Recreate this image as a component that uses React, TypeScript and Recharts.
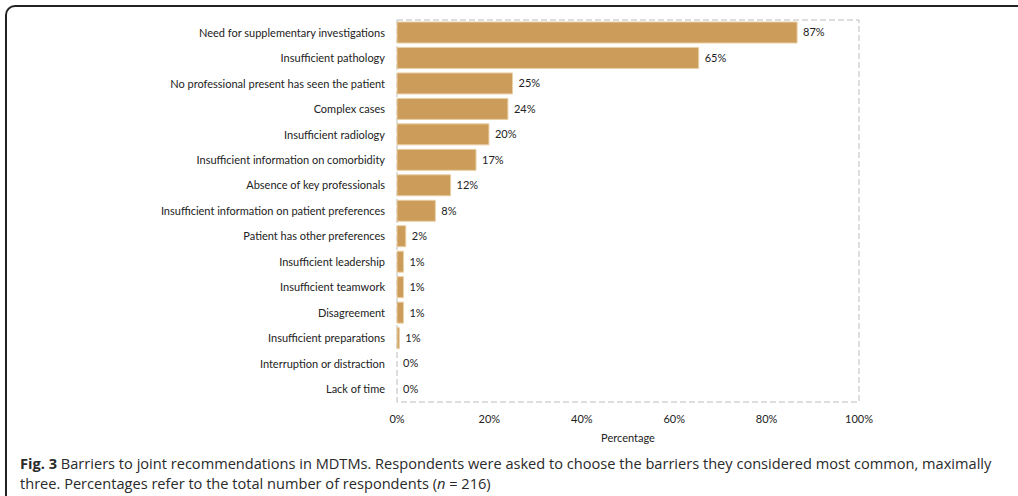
import { BarChart, Bar, XAxis, YAxis, LabelList, ReferenceArea, Cell } from 'recharts'

const categories = [
  'Need for supplementary investigations',
  'Insufficient pathology',
  'No professional present has seen the patient',
  'Complex cases',
  'Insufficient radiology',
  'Insufficient information on comorbidity',
  'Absence of key professionals',
  'Insufficient information on patient preferences',
  'Patient has other preferences',
  'Insufficient leadership',
  'Insufficient teamwork',
  'Disagreement',
  'Insufficient preparations',
  'Interruption or distraction',
  'Lack of time',
]

const percentages = [86.6, 65.3, 25, 24, 19.9, 17.1, 11.6, 8.3, 1.9, 1.4, 1.4, 1.4, 0.5, 0, 0]

const xTicks = [0, 20, 40, 60, 80, 100]

const data = categories.map((name, i) => ({ name, value: percentages[i] }))

const tickStyle = { fontSize: 11, fill: '#222', fontFamily: 'Lato, sans-serif' }

export default function App() {
  return (
    <div
      style={{
        position: 'fixed',
        left: 0,
        top: 0,
        width: 1018,
        height: 496,
        overflow: 'hidden',
        background: '#fff',
      }}
    >
      <div
        style={{
          position: 'absolute',
          left: 5,
          top: 5,
          width: 1030,
          height: 520,
          border: '2px solid #222',
          borderRadius: 10,
          boxSizing: 'border-box',
        }}
      />
      <div style={{ position: 'absolute', left: 0, top: 0 }}>
        <BarChart
          width={1018}
          height={450}
          data={data}
          layout="vertical"
          margin={{ top: 20, right: 159, bottom: 0, left: 0 }}
        >
          <XAxis
            type="number"
            domain={[0, 100]}
            ticks={xTicks}
            tickFormatter={(v) => `${v}%`}
            tick={tickStyle}
            axisLine={false}
            tickLine={false}
            tickSize={0}
            tickMargin={13}
            height={48}
            label={{
              value: 'Percentage',
              position: 'insideBottom',
              offset: 8,
              style: tickStyle,
            }}
          />
          <YAxis
            type="category"
            dataKey="name"
            width={397}
            tick={tickStyle}
            axisLine={false}
            tickLine={false}
            tickSize={0}
            tickMargin={12}
            interval={0}
          />
          <ReferenceArea
            x1={0}
            x2={100}
            fill="none"
            stroke="#bdbdbd"
            strokeDasharray="6 3"
          />
          <Bar
            dataKey="value"
            fill="#cc9d5a"
            strokeWidth={1}
            barSize={21}
            minPointSize={(v: number) => (v === 0 ? 0.01 : 0)}
            isAnimationActive={false}
          >
            {data.map((d) => (
              <Cell key={d.name} stroke={d.value > 0 ? '#e9cfa6' : 'none'} />
            ))}
            <LabelList
              dataKey="value"
              position="right"
              offset={6}
              formatter={(v: number) => `${Math.round(v)}%`}
              style={tickStyle}
            />
          </Bar>
        </BarChart>
      </div>
      <div
        style={{
          position: 'absolute',
          left: 20,
          top: 453,
          fontFamily: '"Open Sans", sans-serif',
          fontSize: 14.6,
          lineHeight: '20px',
          color: '#2a2a2a',
          whiteSpace: 'nowrap',
        }}
      >
        <div>
          <b>Fig. 3</b> Barriers to joint recommendations in MDTMs. Respondents were asked to choose the barriers they considered most common, maximally
        </div>
        <div>
          three. Percentages refer to the total number of respondents (<i>n</i> = 216)
        </div>
      </div>
    </div>
  )
}
